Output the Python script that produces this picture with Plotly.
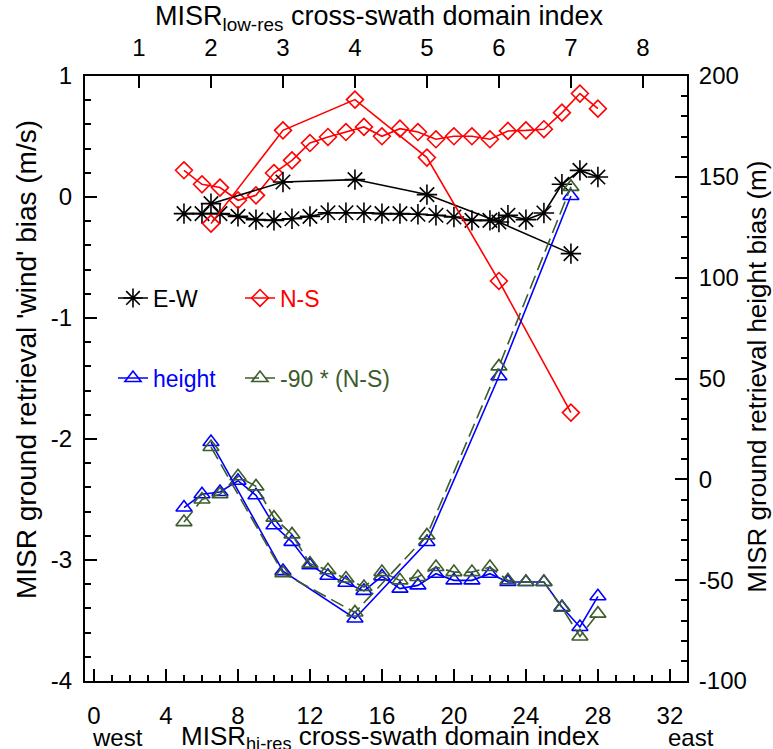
import plotly.graph_objects as go

# ---------------- data ----------------
hires_idx = [5, 6, 7, 8, 9, 10, 11, 12, 13, 14, 15, 16,
             17, 18, 19, 20, 21, 22, 23, 24, 25, 26, 27, 28]
lowres_idx = [2, 3, 4, 5, 6, 7]

ew_hi = [-0.137, -0.137, -0.137, -0.16, -0.187, -0.193, -0.18, -0.16, -0.13, -0.13, -0.13, -0.137,
         -0.137, -0.143, -0.151, -0.165, -0.193, -0.193, -0.151, -0.187, -0.132, 0.105, 0.22, 0.165]
ns_hi = [0.221, 0.105, 0.078, -0.027, 0.014, 0.198, 0.303, 0.446, 0.496, 0.537, 0.579, 0.502,
         0.565, 0.537, 0.477, 0.502, 0.502, 0.477, 0.546, 0.551, 0.56, 0.697, 0.855, 0.73]
height_hi = [-14.0, -7.4, -6.3, -0.7, -7.9, -22.8, -31.0, -42.6, -47.8, -51.3, -55.3, -48.1,
             -54.2, -52.6, -46.8, -50.1, -50.1, -46.8, -50.9, -50.9, -50.9, -63.3, -73.2, -58.0]
scaled_ns_hi = [-21.2, -10.0, -7.4, 1.5, -3.5, -19.0, -27.3, -41.8, -45.1, -49.2, -53.4, -46.0,
                -50.1, -48.4, -43.5, -46.0, -46.0, -43.5, -50.1, -50.9, -50.9, -63.6, -77.9, -66.6]

ew_lo = [-0.055, 0.124, 0.144, 0.02, -0.207, -0.468]
ns_lo = [-0.22, 0.551, 0.805, 0.326, -0.694, -1.782]
height_lo = [18.5, -45.5, -69.0, -31.1, 51.1, 140.5]
scaled_ns_lo = [16.0, -46.5, -66.0, -27.8, 56.0, 145.0]

bottom_ticks = [0, 4, 8, 12, 16, 20, 24, 28, 32]
top_ticks = [1, 2, 3, 4, 5, 6, 7, 8]
left_ticks = [-4, -3, -2, -1, 0, 1]
left_ticktext = ["-4", "-3", "-2", "-1", "0", "1"]
right_ticks = [-100, -50, 0, 50, 100, 150, 200]
right_ticktext = ["-100", "-50", "0", "50", "100", "150", "200"]

# ---------------- style ----------------
FONT = "Liberation Sans, Arial, Helvetica, sans-serif"
BLACK, RED, BLUE, GREEN = "#000000", "#ff0000", "#0000ff", "#3d5c2b"
LW = 1.6
TICK_FS = 24
LEG_FS = 23

fig = go.Figure()


def add(x, y, xa, ya, color, symbol, size, name, legend, showlegend, dash="solid"):
    fig.add_trace(go.Scatter(
        x=x, y=y, xaxis=xa, yaxis=ya, mode="lines+markers", name=name,
        legend=legend, showlegend=showlegend,
        line=dict(color=color, width=LW, dash=dash),
        marker=dict(symbol=symbol, size=size, color=color,
                    line=dict(color=color, width=1.6)),
        cliponaxis=False,
    ))


add(hires_idx, ew_hi, "x", "y", BLACK, "asterisk-open", 17, "E-W", "legend", True)
add(lowres_idx, ew_lo, "x2", "y", BLACK, "asterisk-open", 17, "E-W", "legend", False)
add(hires_idx, ns_hi, "x", "y", RED, "diamond-open", 13, "N-S", "legend2", True)
add(lowres_idx, ns_lo, "x2", "y", RED, "diamond-open", 13, "N-S", "legend2", False)
add(hires_idx, height_hi, "x", "y2", BLUE, "triangle-up-open", 14, "height", "legend3", True)
add(lowres_idx, height_lo, "x2", "y2", BLUE, "triangle-up-open", 14, "height", "legend3", False)
add(hires_idx, scaled_ns_hi, "x", "y2", GREEN, "triangle-up-open", 14, "-90 * (N-S)", "legend4", True,
    dash="14px,6px")
add(lowres_idx, scaled_ns_lo, "x2", "y2", GREEN, "triangle-up-open", 14, "-90 * (N-S)", "legend4", False,
    dash="14px,6px")

axis_common = dict(showline=True, linecolor="black", linewidth=2, showgrid=False, zeroline=False,
                   ticks="inside", ticklen=12, tickwidth=2, tickcolor="black",
                   tickfont=dict(family=FONT, size=TICK_FS, color="black"))

X0, X1 = -0.5, 32.95

fig.update_layout(
    width=773, height=749,
    margin=dict(l=85, r=86, t=76, b=68, pad=0),
    paper_bgcolor="white", plot_bgcolor="white",
    font=dict(family=FONT, size=TICK_FS, color="black"),
    xaxis=dict(range=[X0, X1], tickmode="array", tickvals=bottom_ticks,
               ticktext=[str(v) for v in bottom_ticks], ticklabelstandoff=12,
               minor=dict(tickmode="linear", tick0=0, dtick=1, ticks="inside", ticklen=6,
                          tickwidth=1.5, tickcolor="black"),
               **axis_common),
    xaxis2=dict(range=[(X0 + 1.5) / 4, (X1 + 1.5) / 4], overlaying="x", side="top", anchor="y",
                tickmode="array", tickvals=top_ticks, ticktext=[str(v) for v in top_ticks],
                ticklabelstandoff=8, **axis_common),
    yaxis=dict(range=[-4, 1], tickmode="array", tickvals=left_ticks, ticktext=left_ticktext,
               ticklabelstandoff=6,
               minor=dict(tickmode="linear", tick0=0, dtick=0.2, ticks="inside", ticklen=6,
                          tickwidth=1.5, tickcolor="black"),
               **axis_common),
    yaxis2=dict(range=[-100, 200], overlaying="y", side="right", anchor="x",
                tickmode="array", tickvals=right_ticks, ticktext=right_ticktext,
                ticklabelstandoff=5,
                minor=dict(tickmode="linear", tick0=0, dtick=10, ticks="inside", ticklen=6,
                           tickwidth=1.5, tickcolor="black"),
                **axis_common),
    legend=dict(x=0.0465, y=0.633, xanchor="left", yanchor="middle", bgcolor="rgba(0,0,0,0)",
                font=dict(family=FONT, size=LEG_FS, color=BLACK)),
    legend2=dict(x=0.2575, y=0.633, xanchor="left", yanchor="middle", bgcolor="rgba(0,0,0,0)",
                 font=dict(family=FONT, size=LEG_FS, color=RED)),
    legend3=dict(x=0.0465, y=0.5008, xanchor="left", yanchor="middle", bgcolor="rgba(0,0,0,0)",
                 font=dict(family=FONT, size=LEG_FS, color=BLUE)),
    legend4=dict(x=0.2575, y=0.5008, xanchor="left", yanchor="middle", bgcolor="rgba(0,0,0,0)",
                 font=dict(family=FONT, size=LEG_FS, color=GREEN)),
    showlegend=True,
)


def py(v):
    """pixel row -> paper y"""
    return (681 - v) / 605


fig.add_annotation(text="MISR ground retrieval 'wind' bias (m/s)", xref="paper", yref="paper",
                   x=-0.0963, y=0.5306, xanchor="center", yanchor="middle", textangle=-90,
                   showarrow=False, font=dict(family=FONT, size=28, color="black"))
fig.add_annotation(text="MISR ground retrieval height bias (m)", xref="paper", yref="paper",
                   x=1.1163, y=0.503, xanchor="center", yanchor="middle", textangle=-90,
                   showarrow=False, font=dict(family=FONT, size=26, color="black"))
fig.add_annotation(text="MISR<sub>low-res</sub> cross-swath domain index", xref="paper", yref="paper",
                   x=0.49, y=1.0959, xanchor="center", yanchor="middle",
                   showarrow=False, font=dict(family=FONT, size=27, color="black"))
fig.add_annotation(text="MISR<sub>hi-res</sub> cross-swath domain index", xref="paper", yref="paper",
                   x=0.5066, y=py(737), xanchor="center", yanchor="middle", borderpad=0,
                   showarrow=False, font=dict(family=FONT, size=26, color="black"))
fig.add_annotation(text="west", xref="paper", yref="paper", x=(91 - 85) / 602, y=py(737),
                   xanchor="left", yanchor="middle", showarrow=False, borderpad=0,
                   font=dict(family=FONT, size=TICK_FS, color="black"))
fig.add_annotation(text="east", xref="paper", yref="paper", x=(667 - 85) / 602, y=py(737),
                   xanchor="left", yanchor="middle", showarrow=False, borderpad=0,
                   font=dict(family=FONT, size=TICK_FS, color="black"))

fig.write_html("out.html")
